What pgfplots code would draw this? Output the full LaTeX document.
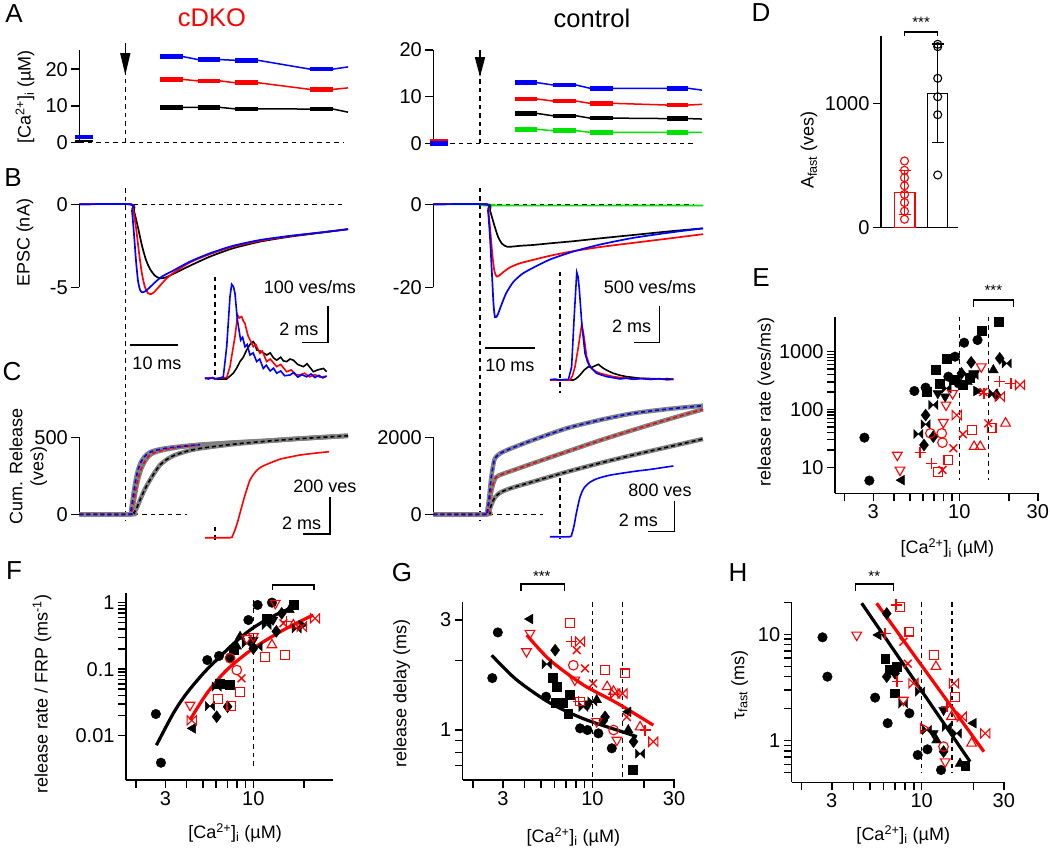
\documentclass[border=0pt]{standalone}
\usepackage{fontspec}
\setmainfont{Liberation Sans}
\usepackage{pgfplots}
\pgfplotsset{compat=1.18}
\usetikzlibrary{arrows.meta}
\definecolor{cb}{RGB}{0,0,255}
\definecolor{cr}{RGB}{255,0,0}
\definecolor{cg}{RGB}{0,225,0}
\definecolor{cgr}{RGB}{128,128,128}
\pgfdeclareplotmark{bowtie}{%
 \pgfpathmoveto{\pgfqpoint{-\pgfplotmarksize}{\pgfplotmarksize}}%
 \pgfpathlineto{\pgfqpoint{\pgfplotmarksize}{-\pgfplotmarksize}}%
 \pgfpathlineto{\pgfqpoint{\pgfplotmarksize}{\pgfplotmarksize}}%
 \pgfpathlineto{\pgfqpoint{-\pgfplotmarksize}{-\pgfplotmarksize}}%
 \pgfpathclose\pgfusepathqstroke}
\pgfdeclareplotmark{bowtie*}{%
 \pgfpathmoveto{\pgfqpoint{-\pgfplotmarksize}{\pgfplotmarksize}}%
 \pgfpathlineto{\pgfqpoint{\pgfplotmarksize}{-\pgfplotmarksize}}%
 \pgfpathlineto{\pgfqpoint{\pgfplotmarksize}{\pgfplotmarksize}}%
 \pgfpathlineto{\pgfqpoint{-\pgfplotmarksize}{-\pgfplotmarksize}}%
 \pgfpathclose\pgfusepathqfillstroke}
\newcommand\fs{\fontsize{18}{21}\selectfont}
\newcommand\ft{\fontsize{20}{23}\selectfont}
\newcommand\fl{\fontsize{26}{30}\selectfont}
\newcommand\fti{\fontsize{25.5}{30}\selectfont}
\newcommand\fst{\fontsize{15}{17}\selectfont}
\newcommand\cai{[Ca\textsuperscript{2+}]\textsubscript{i} (µM)}
\pgfplotsset{
 base/.style={scale only axis, clip=false, anchor=south west, enlargelimits=false,
   tick label style={font=\ft}, label style={font=\fs},
   axis line style={-, line width=1.5pt, black},
   tick style={line width=1.5pt, black},
   tick align=outside, major tick length=8pt, minor tick length=8pt,
   unbounded coords=jump},
 trace/.style={base, axis x line=none, axis y line*=left, xtick=\empty},
 ins/.style={scale only axis, clip=false, anchor=south west, enlargelimits=false,
   axis lines=none, xtick=\empty, ytick=\empty, unbounded coords=jump},
 logp/.style={base, axis x line*=bottom, axis y line*=left,
   xtick={3,10,30}, xticklabels={3,10,30}, minor xtick={2,4,5,6,7,8,9,20}},
 dsh/.style={black, line width=1.5pt, dash pattern=on 4.5pt off 4pt},
 thn/.style={line width=1.5pt},
 thk/.style={line width=4.5pt},
 tr/.style={line width=1.7pt, smooth, tension=0.4},
 nz/.style={line width=1.6pt},
 gfit/.style={cgr, line width=4.5pt, smooth, tension=0.4},
 dfit/.style={line width=1.6pt, dash pattern=on 4pt off 3pt, smooth, tension=0.4},
 rot/.style={every mark/.append style={rotate=#1}},
 bk/.style={only marks, black, mark size=4.8pt, every mark/.append style={solid, fill=black}},
 rd/.style={only marks, cr, mark size=4.8pt, every mark/.append style={solid, line width=1.1pt, draw=cr}},
 sq/.style={mark size=4.4pt}, di/.style={mark size=6pt}, tri/.style={mark size=5.6pt}, bt/.style={mark size=4.6pt},
 crs/.style={mark size=5.5pt, every mark/.append style={line width=1.4pt, draw=cr}},
 fitl/.style={line width=3.2pt, smooth, tension=0.5},
}
\begin{document}
\begin{tikzpicture}
\useasboundingbox (0pt,0pt) rectangle (1050pt,-852pt);
% panel letters and titles
\node[font=\fl] at (14pt,-14pt) {A};
\node[font=\fl] at (13pt,-178pt) {B};
\node[font=\fl] at (12pt,-372pt) {C};
\node[font=\fl] at (761pt,-13pt) {D};
\node[font=\fl] at (761pt,-278pt) {E};
\node[font=\fl] at (14pt,-571pt) {F};
\node[font=\fl] at (402pt,-573pt) {G};
\node[font=\fl] at (738pt,-573pt) {H};
\node[font=\fti, text=cr] at (212pt,-18pt) {cDKO};
\node[font=\fti] at (592pt,-18pt) {control};

% ===== A cDKO =====
\begin{axis}[trace, at={(79.3pt,-142.7pt)}, width=268.7pt, height=92.7pt,
  xmin=79.3, xmax=348, ymin=0, ymax=25.2, ytick={0,10,20}, yticklabels={0,10,20},
  ylabel={\cai}, ylabel style={at={(axis description cs:-0.202,0.493)}, anchor=center}]
\addplot[dsh] coordinates {(79.3,0) (343,0)};
\addplot[dsh] coordinates {(125.3,0) (125.3,19.2)};
\draw[line width=1.5pt, -{Triangle[length=22pt,width=10pt]}] (axis cs:125.3,27.1) -- (axis cs:125.3,18.4);
\addplot[black, thn] coordinates {(75,0.4) (93,0.4)};
\addplot[cb, thk] coordinates {(75,1.5) (93,1.5)};
\addplot[cb, thn] coordinates {(160,23.4) (183,23.4) (198,22.6) (220,22.6) (235,22.4) (258,22.4) (310,20.0) (333,20.0) (348,20.6)};
\addplot[cb, thk] coordinates {(160,23.4) (183,23.4) (190,nan) (198,22.6) (220,22.6) (228,nan) (235,22.4) (258,22.4) (280,nan) (310,20.0) (333,20.0)};
\addplot[cr, thn] coordinates {(160,17.2) (183,17.2) (198,16.8) (220,16.8) (235,16.3) (258,16.3) (310,14.5) (333,14.5) (348,14.9)};
\addplot[cr, thk] coordinates {(160,17.2) (183,17.2) (190,nan) (198,16.8) (220,16.8) (228,nan) (235,16.3) (258,16.3) (280,nan) (310,14.5) (333,14.5)};
\addplot[black, thn] coordinates {(160,9.6) (183,9.6) (198,9.6) (220,9.6) (235,9.2) (258,9.2) (310,9.15) (333,9.15) (348,8.3)};
\addplot[black, thk] coordinates {(160,9.6) (183,9.6) (190,nan) (198,9.6) (220,9.6) (228,nan) (235,9.2) (258,9.2) (280,nan) (310,9.15) (333,9.15)};
\end{axis}

% ===== A control =====
\begin{axis}[trace, at={(433.3pt,-143.3pt)}, width=269.7pt, height=93.3pt,
  xmin=433.3, xmax=703, ymin=0, ymax=20, ytick={0,10,20}, yticklabels={0,10,20}]
\addplot[dsh] coordinates {(433.3,0) (693,0)};
\addplot[dsh] coordinates {(480,0) (480,15.1)};
\draw[line width=1.5pt, -{Triangle[length=20pt,width=10pt]}] (axis cs:480,20) -- (axis cs:480,14.2);
\addplot[cr, thk] coordinates {(430,0.4) (448,0.4)};
\addplot[cb, thk] coordinates {(430,0) (448,0)};
\addplot[cb, thn] coordinates {(515,13.0) (537,13.0) (553,12.5) (576,12.5) (590,11.8) (613,11.8) (667,11.8) (688,11.8) (702,11.4)};
\addplot[cb, thk] coordinates {(515,13.0) (537,13.0) (545,nan) (553,12.5) (576,12.5) (583,nan) (590,11.8) (613,11.8) (640,nan) (667,11.8) (688,11.8)};
\addplot[cr, thn] coordinates {(515,9.5) (537,9.5) (553,9.06) (576,9.06) (590,8.57) (613,8.57) (667,8.2) (688,8.2) (702,8.35)};
\addplot[cr, thk] coordinates {(515,9.5) (537,9.5) (545,nan) (553,9.06) (576,9.06) (583,nan) (590,8.57) (613,8.57) (640,nan) (667,8.2) (688,8.2)};
\addplot[black, thn] coordinates {(515,6.4) (537,6.4) (553,5.9) (576,5.9) (590,5.4) (613,5.4) (667,5.3) (688,5.3) (702,5.2)};
\addplot[black, thk] coordinates {(515,6.4) (537,6.4) (545,nan) (553,5.9) (576,5.9) (583,nan) (590,5.4) (613,5.4) (640,nan) (667,5.3) (688,5.3)};
\addplot[cg, thn] coordinates {(515,3.0) (537,3.0) (553,2.7) (576,2.7) (590,2.36) (613,2.36) (667,2.36) (688,2.36) (702,2.36)};
\addplot[cg, thk] coordinates {(515,3.0) (537,3.0) (545,nan) (553,2.7) (576,2.7) (583,nan) (590,2.36) (613,2.36) (640,nan) (667,2.36) (688,2.36)};
\end{axis}

% ===== B cDKO =====
\begin{axis}[trace, at={(79.3pt,-287.3pt)}, width=268.7pt, height=83pt,
  xmin=79.3, xmax=348, ymin=-5, ymax=0, ytick={-5,0}, yticklabels={-5,0},
  ylabel={EPSC (nA)}, ylabel style={at={(axis description cs:-0.202,0.534)}, anchor=center}]
\addplot[dsh] coordinates {(125.3,0.98) (125.3,-19.02)};
\addplot[dsh] coordinates {(125.3,0) (343,0)};
\addplot[black, tr] coordinates {(79.3,0) (131,0) (134,-0.4) (138,-1.4) (142,-2.5) (146,-3.35) (150,-3.9) (155,-4.3) (160,-4.46) (166,-4.4) (173,-4.2) (190,-3.7) (210,-3.15) (233,-2.65) (260,-2.25) (290,-1.95) (320,-1.72) (348,-1.5)};
\addplot[cr, tr] coordinates {(79.3,0) (130.5,0) (133,-0.3) (136,-1.4) (139,-2.9) (142,-4.2) (145,-5.0) (148,-5.35) (150.5,-5.42) (154,-5.3) (160,-4.9) (166,-4.5) (173,-4.15) (190,-3.5) (210,-3.0) (233,-2.55) (260,-2.2) (290,-1.92) (320,-1.7) (348,-1.5)};
\addplot[cb, tr] coordinates {(79.3,0) (130,0) (132,-0.4) (134,-1.8) (136,-3.4) (138,-4.6) (140,-5.15) (142,-5.3) (145,-5.25) (149,-5.05) (155,-4.7) (162,-4.35) (173,-4.0) (190,-3.45) (210,-2.95) (233,-2.5) (260,-2.15) (290,-1.9) (320,-1.7) (348,-1.5)};
\addplot[black, line width=1.5pt] coordinates {(130,-8.48) (178,-8.48)};
\end{axis}
\node[font=\fs] at (157pt,-363pt) {10 ms};

% inset B cDKO (t in ms, rate in ves/ms)
\begin{axis}[ins, at={(201.85pt,-379pt)}, width=131.5pt, height=108.9pt,
  xmin=-1, xmax=9, ymin=0, ymax=300]
\addplot[dsh] coordinates {(0,282) (0,-3)};
\addplot[black, nz] coordinates {(-0.76,1) (-0.3,3) (0.2,0) (0.89,0) (1.39,16) (1.65,30) (1.9,48) (2.15,60) (2.41,80) (2.65,95) (2.91,103) (3.05,95) (3.17,80) (3.5,76) (3.93,66) (4.2,72) (4.45,58) (4.69,52) (5.0,60) (5.2,50) (5.45,48) (5.7,55) (5.96,52) (6.3,40) (6.72,34) (7.0,42) (7.48,20) (7.8,25) (8.24,29) (8.49,20)};
\addplot[cr, nz] coordinates {(-0.76,2) (-0.4,4) (0,0) (0.4,3) (0.89,4) (1.14,34) (1.52,117) (1.72,176) (1.85,168) (2.03,172) (2.15,160) (2.28,153) (2.4,135) (2.53,117) (2.7,105) (2.91,89) (3.1,95) (3.42,71) (3.6,77) (3.93,48) (4.2,55) (4.69,34) (5.0,40) (5.45,20) (5.8,25) (6.1,12) (6.46,11) (6.8,16) (7.2,6) (7.6,12) (8.0,5) (8.49,8)};
\addplot[cb, nz] coordinates {(-0.76,3) (-0.5,0) (-0.2,4) (0,1) (0.3,2) (0.63,6) (0.89,89) (1.14,227) (1.27,261) (1.4,255) (1.52,236) (1.7,163) (1.95,107) (2.1,115) (2.28,89) (2.45,95) (2.66,66) (2.9,72) (3.17,48) (3.4,55) (3.67,29) (3.9,38) (4.2,22) (4.45,30) (4.69,16) (5.0,22) (5.3,9) (5.7,11) (6.0,18) (6.3,5) (6.6,12) (6.97,6) (7.3,14) (7.6,4) (7.9,10) (8.2,3) (8.49,8)};
\addplot[black, line width=1.5pt] coordinates {(6.59,101) (8.59,101) (8.59,201)};
\end{axis}
\node[font=\fs] at (310pt,-287pt) {100 ves/ms};
\node[font=\fs] at (299pt,-329pt) {2 ms};

% ===== B control =====
\begin{axis}[trace, at={(433.3pt,-287.3pt)}, width=269.7pt, height=83pt,
  xmin=433.3, xmax=703, ymin=-20, ymax=0, ytick={-20,0}, yticklabels={-20,0}]
\addplot[dsh] coordinates {(480,3.93) (480,-76.07)};
\addplot[dsh] coordinates {(480,0) (693,0)};
\addplot[cg, tr] coordinates {(433.3,0) (487,0) (492,-0.3) (703,-0.3)};
\addplot[black, tr] coordinates {(433.3,0) (487,0) (490,-1.5) (494,-4.8) (498,-7.8) (502,-9.5) (506.7,-10.2) (512,-10.2) (520,-10.0) (533,-9.8) (550,-9.4) (573,-8.9) (600,-8.2) (633,-7.4) (670,-6.5) (703,-5.8)};
\addplot[cr, tr] coordinates {(433.3,0) (486.5,0) (488.5,-2) (490.5,-7) (492.5,-12.5) (494.5,-16.2) (496.7,-17.4) (499,-17.2) (503,-16.4) (510,-15.2) (520,-14.2) (533,-13.4) (550,-12.4) (573,-11.3) (600,-10.3) (633,-9.3) (670,-8.2) (703,-7.2)};
\addplot[cb, tr] coordinates {(433.3,0) (486,0) (488,-1.5) (490,-8) (492,-17) (493.5,-24) (495,-27.2) (497.5,-26.7) (501,-24.5) (506,-21.5) (513,-18.8) (522,-16.8) (533,-15.3) (550,-13.3) (573,-11.4) (600,-9.7) (633,-8.1) (670,-6.8) (703,-5.8)};
\addplot[black, line width=1.5pt] coordinates {(485,-34.6) (535,-34.6)};
\end{axis}
\node[font=\fs] at (510pt,-365pt) {10 ms};

% inset B control
\begin{axis}[ins, at={(547.5pt,-380pt)}, width=131.25pt, height=116.2pt,
  xmin=-1, xmax=9.5, ymin=0, ymax=1600]
\addplot[dsh] coordinates {(0,1488) (0,-179)};
\addplot[black, nz] coordinates {(-0.8,0) (1.07,0) (1.3,20) (1.6,69) (1.95,140) (2.27,183) (2.53,174) (2.8,195) (3.07,216) (3.25,190) (3.47,161) (3.85,125) (4.27,92) (4.8,65) (5.33,46) (5.9,35) (6.4,23) (7.2,20) (8.0,14) (8.6,18) (9.07,10)};
\addplot[cr, nz] coordinates {(-0.8,0) (0.8,0) (1.0,60) (1.2,183) (1.47,459) (1.74,767) (1.92,597) (2.13,321) (2.33,220) (2.53,161) (2.85,120) (3.2,92) (3.7,70) (4.27,46) (5.0,30) (5.87,14) (6.6,22) (7.3,10) (8.0,18) (8.6,5) (9.07,10)};
\addplot[cb, nz] coordinates {(-0.8,5) (-0.4,12) (0,0) (0.4,8) (0.67,5) (0.93,183) (1.12,826) (1.34,1483) (1.45,1420) (1.55,1240) (1.74,781) (2.0,368) (2.2,250) (2.4,183) (2.93,92) (3.3,70) (3.73,46) (4.3,30) (4.8,14) (5.3,25) (5.87,10) (6.5,20) (7.2,8) (7.9,18) (8.5,6) (9.07,10)};
\addplot[black, line width=1.5pt] coordinates {(5.94,519) (7.94,519) (7.94,1019)};
\end{axis}
\node[font=\fs] at (650pt,-287.3pt) {500 ves/ms};
\node[font=\fs] at (631.7pt,-326.7pt) {2 ms};

% ===== C cDKO =====
\begin{axis}[trace, at={(79.3pt,-514.3pt)}, width=268.7pt, height=77pt,
  xmin=79.3, xmax=348, ymin=0, ymax=500, ytick={0,500}, yticklabels={0,500},
  ylabel={Cum. Release\\(ves)}, ylabel style={align=center, at={(axis description cs:-0.19,0.62)}, anchor=center}]
\addplot[dsh] coordinates {(125.3,0) (187,0)};
\addplot[gfit] coordinates {(79.3,0) (132,0) (134,10) (137,45) (140,93) (145,165) (150,223) (155,275) (160,320) (167,357) (175,385) (187,410) (200,428) (233,455) (267,475) (300,491) (348,510)};
\addplot[gfit] coordinates {(79.3,0) (130,0) (132,20) (134,90) (136,165) (138,225) (140,272) (142,308) (145,345) (148,372) (151,390) (156,405) (165,420) (180,437) (200,451) (233,465) (267,478) (300,492) (348,510)};
\addplot[gfit] coordinates {(79.3,0) (129.5,0) (131,25) (133,110) (135,195) (137,262) (139,308) (141,340) (144,370) (147,390) (150,403) (155,415) (165,428) (180,440) (200,452) (233,466) (267,478) (300,492) (348,510)};
\addplot[black, dfit] coordinates {(79.3,0) (132,0) (134,10) (137,45) (140,93) (145,165) (150,223) (155,275) (160,320) (167,357) (175,385) (187,410) (200,428) (233,455) (267,475) (300,491) (348,510)};
\addplot[cr, dfit] coordinates {(79.3,0) (130,0) (132,20) (134,90) (136,165) (138,225) (140,272) (142,308) (145,345) (148,372) (151,390) (156,405) (165,420) (180,437) (200,451)};
\addplot[cb, dfit] coordinates {(79.3,0) (129.5,0) (131,25) (133,110) (135,195) (137,262) (139,308) (141,340) (144,370) (147,390) (150,403) (155,415) (165,428) (180,440) (200,452)};
\end{axis}

% inset C cDKO
\begin{axis}[ins, at={(201.7pt,-537.7pt)}, width=133pt, height=93.3pt,
  xmin=-1, xmax=9, ymin=0, ymax=500]
\addplot[dsh] coordinates {(0,59) (0,-21)};
\addplot[cr, line width=1.6pt, smooth, tension=0.4] coordinates {(-0.75,0) (1.13,0) (1.3,8) (1.5,41) (1.7,85) (1.88,132) (2.07,182) (2.26,229) (2.45,272) (2.63,309) (2.9,340) (3.16,362) (3.45,378) (3.76,389) (4.3,405) (4.89,421) (5.6,432) (6.39,443) (7.4,452) (8.57,461)};
\addplot[black, line width=1.5pt] coordinates {(6.65,20) (8.65,20) (8.65,220)};
\end{axis}
\node[font=\fs] at (325pt,-486.7pt) {200 ves};
\node[font=\fs] at (301.7pt,-523.3pt) {2 ms};

% ===== C control =====
\begin{axis}[trace, at={(433.3pt,-514.3pt)}, width=269.7pt, height=77pt,
  xmin=433.3, xmax=703, ymin=0, ymax=2000, ytick={0,2000}, yticklabels={0,2000}]
\addplot[dsh] coordinates {(480,0) (543,0)};
\addplot[gfit] coordinates {(433.3,0) (487,0) (489,80) (491,220) (493,350) (495,440) (498,520) (502,590) (510,670) (520,750) (533,847) (566.7,1100) (600,1330) (633,1540) (670,1760) (703,1956)};
\addplot[gfit] coordinates {(433.3,0) (486,0) (488,150) (490,420) (492,680) (494,860) (496,960) (499,1010) (505,1070) (515,1160) (533,1325) (566.7,1626) (600,1920) (633,2190) (670,2480) (703,2727)};
\addplot[gfit] coordinates {(433.3,0) (485,0) (487,50) (489,400) (491,900) (493,1250) (495,1455) (500,1580) (510,1700) (533,1930) (566.7,2234) (600,2450) (633,2623) (670,2740) (703,2821)};
\addplot[black, dfit] coordinates {(433.3,0) (487,0) (489,80) (491,220) (493,350) (495,440) (498,520) (502,590) (510,670) (520,750) (533,847) (566.7,1100) (600,1330) (633,1540) (670,1760) (703,1956)};
\addplot[cr, dfit] coordinates {(433.3,0) (486,0) (488,150) (490,420) (492,680) (494,860) (496,960) (499,1010) (505,1070) (515,1160) (533,1325) (566.7,1626) (600,1920) (633,2190) (670,2480) (703,2727)};
\addplot[cb, dfit] coordinates {(433.3,0) (485,0) (487,50) (489,400) (491,900) (493,1250) (495,1455) (500,1580) (510,1700) (533,1930) (566.7,2234) (600,2450) (633,2623) (670,2740) (703,2821)};
\end{axis}

% inset C control
\begin{axis}[ins, at={(547pt,-536.7pt)}, width=130pt, height=77.5pt,
  xmin=-1, xmax=9, ymin=0, ymax=2000]
\addplot[dsh] coordinates {(0,1507) (0,-41)};
\addplot[cb, line width=1.6pt, smooth, tension=0.4] coordinates {(-0.77,0) (0.77,0) (0.9,60) (1.0,173) (1.12,350) (1.23,560) (1.38,800) (1.54,1024) (1.72,1180) (1.92,1290) (2.2,1380) (2.46,1437) (2.75,1485) (3.08,1523) (3.8,1585) (4.62,1631) (5.8,1690) (6.92,1735) (8.0,1790) (8.72,1825)};
\addplot[black, line width=1.5pt] coordinates {(6.79,129) (8.79,129) (8.79,929)};
\end{axis}
\node[font=\fs] at (660pt,-490pt) {800 ves};
\node[font=\fs] at (638.3pt,-520pt) {2 ms};

% ===== D =====
\begin{axis}[base, at={(881pt,-227.3pt)}, width=77.3pt, height=191.3pt,
  xmin=0.292, xmax=2.62, ymin=0, ymax=1543, axis x line*=bottom, axis y line*=left,
  xtick=\empty, ytick={0,1000}, yticklabels={0,1000},
  ylabel={A\textsubscript{fast} (ves)}, ylabel style={at={(axis description cs:-0.931,0.404)}, anchor=center}]
\addplot[ybar, bar width=20.5pt, bar shift=0pt, draw=cr, fill=white, line width=1.5pt] coordinates {(1,282)};
\addplot[ybar, bar width=20pt, bar shift=0pt, draw=black, fill=white, line width=1.5pt] coordinates {(2,1081)};
\addplot[rd, mark=o, mark size=4pt] coordinates {(1,535) (1,460) (1,400) (1,335) (1,265) (1,200) (1,130) (1,65)};
\addplot[only marks, black, mark=o, mark size=4pt, every mark/.append style={line width=1.1pt}] coordinates {(2,1476) (2,1457) (2,1202) (2,1053) (2,908) (2,422)};
\addplot[cr, line width=1.5pt, mark=none, error bars/.cd, y dir=both, y explicit, error bar style={line width=1.5pt, cr}, error mark options={rotate=90, mark size=6pt, line width=1.5pt, cr}] coordinates {(1,282) +- (0,177)};
\addplot[black, line width=1.5pt, mark=none, error bars/.cd, y dir=both, y explicit, error bar style={line width=1.5pt, black}, error mark options={rotate=90, mark size=6pt, line width=1.5pt, black}] coordinates {(2,1081) +- (0,397)};
\addplot[black, line width=1.5pt] coordinates {(1,1543) (1,1577) (2,1577) (2,1543)};
\node[font=\fst] at (axis cs:1.5,1655) {***};
\end{axis}

% ===== E =====
\begin{axis}[xmode=log, ymode=log, logp, at={(835pt,-493.3pt)}, width=203.3pt, height=176pt,
  xmin=1.756, xmax=30.2, ymin=3.55, ymax=3936, ytick={10,100,1000}, yticklabels={10,100,1000},
  ylabel={release rate (ves/ms)}, ylabel style={at={(axis description cs:-0.339,0.519)}, anchor=center},
  xlabel={\cai}, xlabel style={at={(axis description cs:0.553,-0.3125)}, anchor=center}]
\addplot[dsh] coordinates {(10,4036) (10,6.03)};
\addplot[dsh] coordinates {(15,4036) (15,6.03)};
\addplot[black, line width=1.5pt] coordinates {(12.16,6010) (12.16,7834) (21.3,7834) (21.3,6010)};
\node[font=\fst] at (axis cs:16.1,11500) {***};
\addplot[bk, mark=*] coordinates {(2.65,32.6) (2.84,5.9) (5.33,209) (6.24,239) (8.58,370) (9.42,820) (9.9,283) (10.7,1431) (12.9,1590)};
\addplot[bk, mark=square*, sq] coordinates {(6.3,203) (7.21,482) (8.37,767) (9.2,324) (10.5,266) (7.6,283) (13.7,2300) (17.3,3300) (11.5,350)};
\addplot[bk, mark=diamond*, di] coordinates {(6.1,24.3) (6.24,80) (6.95,34) (11.8,655) (17.6,767) (16.8,178) (10.3,422)};
\addplot[bk, mark=triangle*, tri] coordinates {(16.1,482) (11.2,300)};
\addplot[bk, mark=triangle*, tri, rot=180] coordinates {(8.2,167) (7.4,190) (12.4,422)};
\addplot[bk, mark=triangle*, tri, rot=90] coordinates {(4.46,6.0)};
\addplot[bk, mark=triangle*, tri, rot=-90] coordinates {(12.7,209)};
\addplot[bk, mark=bowtie*, bt] coordinates {(5.64,37.7) (6.24,55.5) (6.95,120) (8.37,232) (12.2,396) (16.1,190) (19.4,628)};
\addplot[rd, mark=o] coordinates {(6.67,38.7) (7.82,38.7) (7.9,26.7)};
\addplot[rd, mark=square, sq] coordinates {(7.45,8.2) (8.58,13.4) (11.9,44.3) (15.7,47.2)};
\addplot[rd, mark=triangle, tri] coordinates {(12.3,22.8) (13.4,22.8) (19.1,57.7)};
\addplot[rd, mark=triangle, tri, rot=180] coordinates {(4.2,16.3) (4.36,9.0) (8.0,60) (8.3,120) (9.1,190) (13.6,550)};
\addplot[rd, mark=+, crs] coordinates {(5.77,17.9) (6.79,11.7) (14.1,190) (17.6,303) (20.6,283)};
\addplot[rd, mark=x, crs] coordinates {(7.9,9.0) (9.2,21.3) (10.5,37.3) (15,57.7) (14.0,200)};
\addplot[rd, mark=bowtie, bt] coordinates {(9.65,80) (17.6,167) (23.4,266)};
\end{axis}

% ===== F =====
\begin{axis}[xmode=log, ymode=log, logp, at={(126pt,-780pt)}, width=207.3pt, height=186.7pt,
  xmin=1.747, xmax=29.9, ymin=0.00216, ymax=1.38, ytick={0.01,0.1,1}, yticklabels={0.01,0.1,1},
  ylabel={release rate / FRP (ms\textsuperscript{-1})}, ylabel style={at={(axis description cs:-0.405,0.461)}, anchor=center},
  xlabel={\cai}, xlabel style={at={(axis description cs:0.526,-0.284)}, anchor=center}]
\addplot[dsh] coordinates {(10,1.1) (10,0.00342)};
\addplot[black, line width=1.5pt] coordinates {(12.98,1.55) (12.98,1.85) (22.97,1.85) (22.97,1.55)};
\addplot[black, fitl] coordinates {(2.65,0.0072) (3.34,0.0217) (4.0,0.043) (5.04,0.0865) (6.19,0.146) (8,0.27) (10,0.42) (13,0.62) (18,0.9)};
\addplot[bk, mark=*] coordinates {(2.63,0.0212) (2.82,0.00393) (5.32,0.137) (6.25,0.158) (7.27,0.149) (9.34,0.548) (10.6,0.922) (12.9,1.0)};
\addplot[bk, mark=square*, sq] coordinates {(6.3,0.0612) (7.27,0.0578) (7.6,0.194) (12,0.58) (17.3,0.92)};
\addplot[bk, mark=diamond*, di] coordinates {(6.05,0.0193) (7.03,0.0273) (14.75,0.69) (13.7,0.37) (10,0.205)};
\addplot[bk, mark=triangle*, tri] coordinates {(8.34,0.308) (16.4,0.78) (7.97,0.22)};
\addplot[bk, mark=triangle*, tri, rot=180] coordinates {(10,0.275) (13.1,0.55)};
\addplot[bk, mark=triangle*, tri, rot=90] coordinates {(4.36,0.0129)};
\addplot[bk, mark=triangle*, tri, rot=-90] coordinates {(19.4,0.46)};
\addplot[bk, mark=bowtie*, bt] coordinates {(5.52,0.0279) (6.05,0.0546) (9.13,0.245) (11.99,0.461) (18.1,0.41) (10.6,0.218)};
\addplot[rd, mark=o] coordinates {(7.27,0.146) (7.97,0.097)};
\addplot[rd, mark=square, sq] coordinates {(8.34,0.0459) (7.4,0.0283) (6.16,0.036) (11.7,0.154) (15.5,0.163)};
\addplot[rd, mark=triangle, tri] coordinates {(12.9,0.231) (17.3,0.46)};
\addplot[rd, mark=triangle, tri, rot=180] coordinates {(4.2,0.0289) (9.13,0.291) (10,0.31) (13.5,0.98)};
\addplot[rd, mark=+, crs] coordinates {(15.8,0.52)};
\addplot[rd, mark=x, crs] coordinates {(8.5,0.0728) (15.1,0.49)};
\addplot[rd, mark=bowtie, bt] coordinates {(23.3,0.58) (19.4,0.435) (4.3,0.017)};
\addplot[cr, fitl] coordinates {(4.2,0.0173) (5.28,0.043) (6.94,0.097) (10,0.2055) (15.1,0.388) (22.7,0.652)};
\end{axis}

% ===== G =====
\begin{axis}[xmode=log, ymode=log, logp, at={(462.7pt,-780pt)}, width=212.3pt, height=177.7pt,
  xmin=1.746, xmax=30.4, ymin=0.607, ymax=3.58, ytick={1,3}, yticklabels={1,3}, minor ytick={0.7,0.8,0.9,2},
  ylabel={release delay (ms)}, ylabel style={at={(axis description cs:-0.287,0.488)}, anchor=center},
  xlabel={\cai}, xlabel style={at={(axis description cs:0.521,-0.321)}, anchor=center}]
\addplot[dsh] coordinates {(10,3.58) (10,0.627)};
\addplot[dsh] coordinates {(15,3.58) (15,0.627)};
\addplot[black, line width=1.5pt] coordinates {(3.83,4.01) (3.83,4.30) (6.86,4.30) (6.86,4.01)};
\node[font=\fst] at (axis cs:5.06,4.62) {***};
\addplot[black, fitl] coordinates {(2.58,2.11) (3.61,1.65) (5.65,1.31) (8.85,1.12) (13.9,1.0) (18.2,0.936)};
\addplot[bk, mark=*] coordinates {(2.80,2.65) (2.6,1.68) (5.36,1.395) (8.47,1.017) (9.35,1.0) (10.84,0.967) (12.98,0.833)};
\addplot[bk, mark=square*, sq] coordinates {(5.86,1.68) (6.17,1.54) (6.76,1.31) (7.23,1.18) (6.06,1.31) (7.4,1.42) (17.2,0.675)};
\addplot[bk, mark=diamond*, di] coordinates {(6.06,2.22) (11.86,1.14) (17.4,0.89) (11.6,1.1)};
\addplot[bk, mark=triangle*, tri] coordinates {(16.2,1.0) (10.6,1.35)};
\addplot[bk, mark=triangle*, tri, rot=180] coordinates {(9.5,1.3)};
\addplot[bk, mark=triangle*, tri, rot=90] coordinates {(4.32,3.03) (16.2,1.2)};
\addplot[bk, mark=bowtie*, bt] coordinates {(5.41,1.93) (10,1.33) (8.86,1.26) (19.0,0.79)};
\addplot[rd, mark=o] coordinates {(7.74,1.91) (13.3,1.0)};
\addplot[rd, mark=square, sq] coordinates {(7.4,2.92) (11.9,1.82) (15.5,1.76) (8.47,1.33)};
\addplot[rd, mark=triangle, tri] coordinates {(12.2,1.54) (13.3,1.47) (19.0,1.03)};
\addplot[rd, mark=triangle, tri, rot=180] coordinates {(4.32,2.63) (4.12,2.19) (7.9,1.65) (13.9,0.905) (10.6,1.09)};
\addplot[rd, mark=+, crs] coordinates {(7.57,2.42) (8.3,1.33) (20.3,1.0)};
\addplot[rd, mark=x, crs] coordinates {(8.1,2.22) (9.05,1.85) (10.1,1.59) (15.9,1.14)};
\addplot[rd, mark=bowtie, bt] coordinates {(8.47,2.42) (15.0,1.44) (13.6,1.44) (22.7,0.89)};
\addplot[cr, fitl] coordinates {(4.14,2.58) (5.65,2.01) (8.85,1.57) (13.9,1.31) (22.7,1.05)};
\end{axis}

% ===== H =====
\begin{axis}[xmode=log, ymode=log, logp, at={(791.7pt,-782.3pt)}, width=213.3pt, height=180pt,
  xmin=1.755, xmax=30.5, ymin=0.406, ymax=20, ytick={1,10}, yticklabels={1,10}, minor ytick={0.5,0.6,0.7,0.8,0.9,2,3,4,5,6,7,8,9,20},
  ylabel={τ\textsubscript{fast} (ms)}, ylabel style={at={(axis description cs:-0.244,0.54)}, anchor=center},
  xlabel={\cai}, xlabel style={at={(axis description cs:0.523,-0.293)}, anchor=center}]
\addplot[dsh] coordinates {(10,20) (10,0.493)};
\addplot[dsh] coordinates {(15,20) (15,0.493)};
\addplot[black, line width=1.5pt] coordinates {(4.13,25.5) (4.13,29.7) (6.84,29.7) (6.84,25.5)};
\node[font=\fst] at (axis cs:5.3,35) {**};
\addplot[bk, mark=*] coordinates {(2.65,9.37) (2.83,4.0) (5.36,2.54) (6.34,1.46) (8.48,1.81) (9.48,0.733) (10.8,0.829) (12.95,0.53)};
\addplot[bk, mark=square*, sq] coordinates {(6.13,5.95) (6.54,4.62) (7.0,2.79) (17.9,0.58) (7.17,4.97)};
\addplot[bk, mark=diamond*, di] coordinates {(6.26,15.7) (6.26,4.0) (7.0,4.3) (13.4,0.79)};
\addplot[bk, mark=triangle*, tri] coordinates {(16.7,0.61) (12.2,1.01)};
\addplot[bk, mark=triangle*, tri, rot=180] coordinates {(13.4,1.94) (11.7,1.17)};
\addplot[bk, mark=triangle*, tri, rot=90] coordinates {(5.6,9.86) (20,1.46)};
\addplot[bk, mark=bowtie*, bt] coordinates {(9.78,2.89) (7.8,2.24) (10.7,1.26) (14.0,1.35) (16,1.17)};
\addplot[black, fitl] coordinates {(4.48,19.6) (19.1,0.635)};
\addplot[rd, mark=o] coordinates {(13.4,0.88)};
\addplot[rd, mark=square, sq] coordinates {(7.49,18.2) (8.48,10.6) (11.8,6.4) (15.6,2.59)};
\addplot[rd, mark=triangle, tri] coordinates {(12.1,4.97) (14.9,1.68) (19.5,0.944)};
\addplot[rd, mark=triangle, tri, rot=180] coordinates {(4.19,9.86) (7.83,2.41) (13.7,0.635)};
\addplot[rd, mark=triangle, tri, rot=-90] coordinates {(10.2,1.31)};
\addplot[rd, mark=+, crs] coordinates {(7.09,18.9) (6.12,10.2) (14.0,2.09) (7.2,3.6)};
\addplot[rd, mark=x, crs] coordinates {(7.83,8.53) (8.3,5.3)};
\addplot[rd, mark=bowtie, bt] coordinates {(8.95,3.46) (15.4,3.46) (17.1,1.68) (23.4,1.17)};
\addplot[cr, fitl] coordinates {(5.47,19.6) (23.0,0.788)};
\end{axis}
\end{tikzpicture}
\end{document}
